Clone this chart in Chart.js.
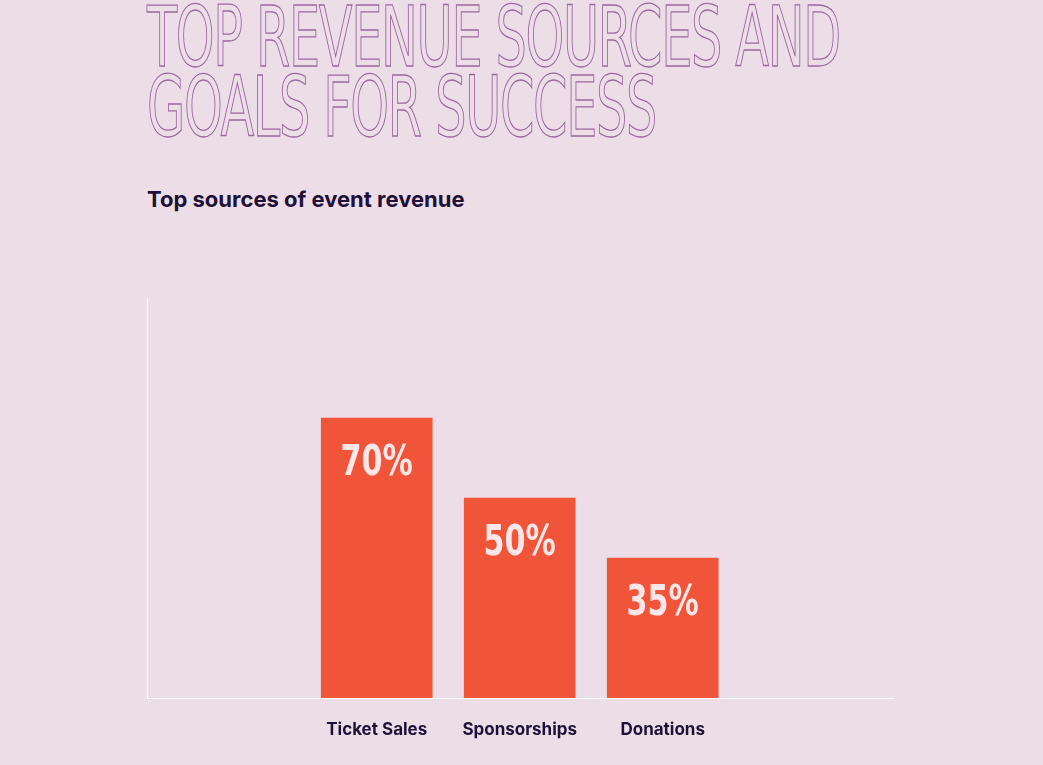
<!DOCTYPE html>
<html>
<head>
<meta charset="utf-8">
<script src="https://cdn.jsdelivr.net/npm/chart.js@4"></script>
<style>
  html, body { margin: 0; padding: 0; background: #ecdde7; width: 1043px; height: 765px; overflow: hidden; }
  #title {
    position: absolute; left: 147px; top: 2px; margin: 0; white-space: nowrap;
    font-family: "DejaVu Sans Condensed", "Liberation Sans Narrow", sans-serif;
    font-size: 84px; line-height: 70px; font-weight: normal; letter-spacing: -2px;
    color: transparent; -webkit-text-stroke: 1.3px #9a6a9c; transform-origin: top left;
  }
  #title span { display: block; }
  #sub {
    position: absolute; left: 147px; top: 186px; margin: 0;
    font-family: Inter, "Noto Sans", sans-serif; font-size: 22px; font-weight: 700; color: #1f1038;
  }
  #wrap { position: absolute; left: 0; top: 0; width: 1043px; height: 765px; }
</style>
</head>
<body>
<h1 id="title"><span id="l1">TOP REVENUE SOURCES AND</span><span>GOALS FOR SUCCESS</span></h1>
<p id="sub">Top sources of event revenue</p>
<div id="wrap"><canvas id="chart" width="1043" height="765"></canvas></div>
<script>
const categories = ['Ticket Sales', 'Sponsorships', 'Donations'];
const shares = [70, 50, 35];

// squeeze the title so the first line spans like the reference
const l1 = document.getElementById('l1');
const range = document.createRange();
range.selectNodeContents(l1);
const w = range.getBoundingClientRect().width;
document.getElementById('title').style.transform = 'scaleX(' + (693 / w) + ')';

// labels inside the top of each bar
const barLabels = {
  id: 'barLabels',
  afterDatasetsDraw(chart) {
    const ctx = chart.ctx;
    ctx.save();
    ctx.fillStyle = '#fde6e8';
    ctx.font = 'bold 42px "DejaVu Sans Condensed", "Liberation Sans Narrow", sans-serif';
    ctx.textAlign = 'center';
    ctx.textBaseline = 'middle';
    chart.getDatasetMeta(0).data.forEach((bar, i) => {
      ctx.save();
      ctx.translate(bar.x, bar.y + 46);
      ctx.scale(0.8, 1);
      ctx.fillText(shares[i] + '%', 0, 0);
      ctx.restore();
    });
    ctx.restore();
  }
};

new Chart(document.getElementById('chart'), {
  type: 'bar',
  data: {
    datasets: [{
      data: shares.map((v, i) => ({ x: i + 1, y: v })),
      backgroundColor: '#f0553a',
      barThickness: 111
    }]
  },
  options: {
    responsive: false,
    animation: false,
    layout: { padding: { left: 147, top: 298, right: 150, bottom: 0 } },
    plugins: { legend: { display: false }, tooltip: { enabled: false } },
    scales: {
      x: {
        type: 'linear', min: 0.263, max: 3.741,
        grid: { display: false },
        border: { color: '#ffffff', width: 1 },
        afterFit: s => { s.height = 67; },
        afterBuildTicks: s => { s.ticks = [1, 2, 3].map(v => ({ value: v })); },
        ticks: {
          padding: 14,
          color: '#1f1038',
          font: { family: 'Inter, "Noto Sans", sans-serif', size: 17, weight: '700' },
          callback: v => categories[v - 1] || ''
        }
      },
      y: {
        min: 0, max: 100,
        grid: { display: false },
        border: { color: '#ffffff', width: 1 },
        ticks: { display: false },
        afterFit: s => { s.width = 0; }
      }
    }
  },
  plugins: [barLabels]
});
</script>
</body>
</html>
